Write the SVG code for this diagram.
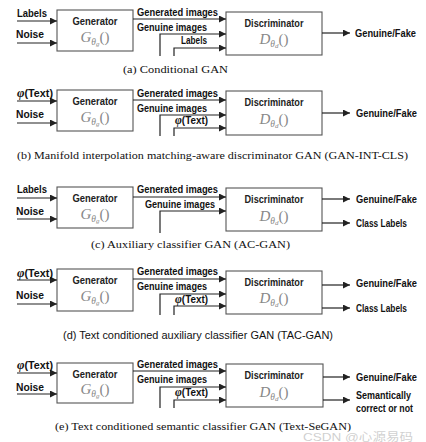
<svg xmlns="http://www.w3.org/2000/svg" width="426" height="442" viewBox="0 0 426 442">
<style>
.box{fill:#fff;stroke:#555;stroke-width:1.1}
.lbl{font-family:"Liberation Sans",Arial,sans-serif;font-weight:bold;font-size:10.5px;fill:#111}
.ttl{font-family:"Liberation Sans",Arial,sans-serif;font-weight:bold;font-size:10.5px;fill:#222;text-anchor:middle}
.math{font-family:"Liberation Serif","Times New Roman",serif;font-style:italic;font-size:15px;fill:#888;text-anchor:middle}
.cap{font-family:"Liberation Serif","Times New Roman",serif;font-size:11px;fill:#111}
.caps{font-family:"Liberation Sans",Arial,sans-serif;font-size:10.5px;fill:#111}
.ln{fill:none;stroke:#222;stroke-width:1.2}
.phi{font-family:"Liberation Serif",serif;font-style:italic;font-weight:bold;font-size:12.5px}
.s1{font-size:9.5px}
.s2{font-size:7px}
</style>
<defs>
<marker id="ah" markerWidth="7" markerHeight="7" refX="7" refY="3.5" orient="auto" markerUnits="userSpaceOnUse">
<path d="M0,0 L7,3.5 L0,7 z" fill="#222"/>
</marker>
</defs>

<!-- Panel (a) -->
<g id="panel-a" transform="translate(0,10)">
<g id="gen-a"><rect class="box" x="57" y="0" width="76" height="41"/><text class="ttl" x="95" y="15" textLength="45" lengthAdjust="spacingAndGlyphs">Generator</text><text class="math" x="95" y="32">G<tspan class="s1" dy="2.5">θ</tspan><tspan class="s2" dy="1.5">g</tspan><tspan font-style="normal" dy="-4">()</tspan></text></g>
<g id="disc-a"><rect class="box" x="226" y="2" width="96" height="43"/><text class="ttl" x="274" y="17" textLength="59" lengthAdjust="spacingAndGlyphs">Discriminator</text><text class="math" x="274" y="34">D<tspan class="s1" dy="2.5">θ</tspan><tspan class="s2" dy="1.5">d</tspan><tspan font-style="normal" dy="-4">()</tspan></text></g>
<g id="conn-a">
<line class="ln" x1="17" y1="11" x2="57" y2="11" marker-end="url(#ah)"/>
<line class="ln" x1="17" y1="33" x2="57" y2="33" marker-end="url(#ah)"/>
<line class="ln" x1="133" y1="9" x2="226" y2="9" marker-end="url(#ah)"/>
<path class="ln" d="M160,46 V24 H226" marker-end="url(#ah)"/>
<path class="ln" d="M174,46 V38 H226" marker-end="url(#ah)"/>
<line class="ln" x1="322" y1="23" x2="350" y2="23" marker-end="url(#ah)"/>
</g>
<text class="lbl" x="17" y="7" textLength="30" lengthAdjust="spacingAndGlyphs">Labels</text>
<text class="lbl" x="16" y="28" textLength="28" lengthAdjust="spacingAndGlyphs">Noise</text>
<text class="lbl" x="137" y="6" textLength="81" lengthAdjust="spacingAndGlyphs">Generated images</text>
<text class="lbl" x="137" y="21" textLength="70" lengthAdjust="spacingAndGlyphs">Genuine images</text>
<text class="lbl" x="181" y="34" textLength="26" lengthAdjust="spacingAndGlyphs">Labels</text>
<text class="lbl" x="355" y="27" textLength="61" lengthAdjust="spacingAndGlyphs">Genuine/Fake</text>
<text class="cap" x="123" y="63" textLength="105" lengthAdjust="spacingAndGlyphs">(a)  Conditional GAN</text>
</g>

<!-- Panel (b) -->
<g id="panel-b" transform="translate(0,90)">
<g id="gen-b"><rect class="box" x="57" y="0" width="76" height="41"/><text class="ttl" x="95" y="15" textLength="45" lengthAdjust="spacingAndGlyphs">Generator</text><text class="math" x="95" y="32">G<tspan class="s1" dy="2.5">θ</tspan><tspan class="s2" dy="1.5">g</tspan><tspan font-style="normal" dy="-4">()</tspan></text></g>
<g id="disc-b"><rect class="box" x="226" y="1" width="96" height="44"/><text class="ttl" x="274" y="16" textLength="59" lengthAdjust="spacingAndGlyphs">Discriminator</text><text class="math" x="274" y="34">D<tspan class="s1" dy="2.5">θ</tspan><tspan class="s2" dy="1.5">d</tspan><tspan font-style="normal" dy="-4">()</tspan></text></g>
<g id="conn-b">
<line class="ln" x1="17" y1="11" x2="57" y2="11" marker-end="url(#ah)"/>
<line class="ln" x1="17" y1="33" x2="57" y2="33" marker-end="url(#ah)"/>
<line class="ln" x1="133" y1="10" x2="226" y2="10" marker-end="url(#ah)"/>
<path class="ln" d="M160,46 V25 H226" marker-end="url(#ah)"/>
<path class="ln" d="M174,46 V38 H226" marker-end="url(#ah)"/>
<line class="ln" x1="322" y1="23" x2="350" y2="23" marker-end="url(#ah)"/>
</g>
<text class="lbl" x="17" y="7" textLength="36" lengthAdjust="spacingAndGlyphs"><tspan class="phi">φ</tspan>(Text)</text>
<text class="lbl" x="16" y="28" textLength="28" lengthAdjust="spacingAndGlyphs">Noise</text>
<text class="lbl" x="137" y="7" textLength="81" lengthAdjust="spacingAndGlyphs">Generated images</text>
<text class="lbl" x="137" y="22" textLength="70" lengthAdjust="spacingAndGlyphs">Genuine images</text>
<text class="lbl" x="175" y="34" textLength="33" lengthAdjust="spacingAndGlyphs"><tspan class="phi">φ</tspan>(Text)</text>
<text class="lbl" x="356" y="27" textLength="61" lengthAdjust="spacingAndGlyphs">Genuine/Fake</text>
<text class="cap" x="17" y="69" textLength="391" lengthAdjust="spacingAndGlyphs">(b)  Manifold interpolation matching-aware discriminator GAN (GAN-INT-CLS)</text>
</g>

<!-- Panel (c) -->
<g id="panel-c" transform="translate(0,187)">
<g id="gen-c"><rect class="box" x="57" y="0" width="76" height="41"/><text class="ttl" x="95" y="15" textLength="45" lengthAdjust="spacingAndGlyphs">Generator</text><text class="math" x="95" y="32">G<tspan class="s1" dy="2.5">θ</tspan><tspan class="s2" dy="1.5">g</tspan><tspan font-style="normal" dy="-4">()</tspan></text></g>
<g id="disc-c"><rect class="box" x="226" y="1" width="96" height="43"/><text class="ttl" x="274" y="16" textLength="59" lengthAdjust="spacingAndGlyphs">Discriminator</text><text class="math" x="274" y="34">D<tspan class="s1" dy="2.5">θ</tspan><tspan class="s2" dy="1.5">d</tspan><tspan font-style="normal" dy="-4">()</tspan></text></g>
<g id="conn-c">
<line class="ln" x1="17" y1="11" x2="57" y2="11" marker-end="url(#ah)"/>
<line class="ln" x1="17" y1="32" x2="57" y2="32" marker-end="url(#ah)"/>
<line class="ln" x1="133" y1="10" x2="226" y2="10" marker-end="url(#ah)"/>
<path class="ln" d="M160,46 V24 H226" marker-end="url(#ah)"/>
<line class="ln" x1="322" y1="12" x2="350" y2="12" marker-end="url(#ah)"/>
<line class="ln" x1="322" y1="36" x2="350" y2="36" marker-end="url(#ah)"/>
</g>
<text class="lbl" x="17" y="6" textLength="30" lengthAdjust="spacingAndGlyphs">Labels</text>
<text class="lbl" x="16" y="28" textLength="28" lengthAdjust="spacingAndGlyphs">Noise</text>
<text class="lbl" x="137" y="6" textLength="81" lengthAdjust="spacingAndGlyphs">Generated images</text>
<text class="lbl" x="145" y="21" textLength="70" lengthAdjust="spacingAndGlyphs">Genuine images</text>
<text class="lbl" x="356" y="16" textLength="61" lengthAdjust="spacingAndGlyphs">Genuine/Fake</text>
<text class="lbl" x="356" y="40" textLength="51" lengthAdjust="spacingAndGlyphs">Class Labels</text>
<text class="cap" x="91" y="61" textLength="199" lengthAdjust="spacingAndGlyphs">(c)  Auxiliary classifier GAN (AC-GAN)</text>
</g>

<!-- Panel (d) -->
<g id="panel-d" transform="translate(0,269)">
<g id="gen-d"><rect class="box" x="57" y="0" width="76" height="42"/><text class="ttl" x="95" y="15" textLength="45" lengthAdjust="spacingAndGlyphs">Generator</text><text class="math" x="95" y="32">G<tspan class="s1" dy="2.5">θ</tspan><tspan class="s2" dy="1.5">g</tspan><tspan font-style="normal" dy="-4">()</tspan></text></g>
<g id="disc-d"><rect class="box" x="226" y="2" width="96" height="43"/><text class="ttl" x="274" y="17" textLength="59" lengthAdjust="spacingAndGlyphs">Discriminator</text><text class="math" x="274" y="34">D<tspan class="s1" dy="2.5">θ</tspan><tspan class="s2" dy="1.5">d</tspan><tspan font-style="normal" dy="-4">()</tspan></text></g>
<g id="conn-d">
<line class="ln" x1="17" y1="11" x2="57" y2="11" marker-end="url(#ah)"/>
<line class="ln" x1="17" y1="35" x2="57" y2="35" marker-end="url(#ah)"/>
<line class="ln" x1="133" y1="10" x2="226" y2="10" marker-end="url(#ah)"/>
<path class="ln" d="M160,46 V25 H226" marker-end="url(#ah)"/>
<path class="ln" d="M174,46 V37 H226" marker-end="url(#ah)"/>
<line class="ln" x1="322" y1="16" x2="350" y2="16" marker-end="url(#ah)"/>
<line class="ln" x1="322" y1="39" x2="350" y2="39" marker-end="url(#ah)"/>
</g>
<text class="lbl" x="17" y="8" textLength="36" lengthAdjust="spacingAndGlyphs"><tspan class="phi">φ</tspan>(Text)</text>
<text class="lbl" x="16" y="30" textLength="28" lengthAdjust="spacingAndGlyphs">Noise</text>
<text class="lbl" x="137" y="6" textLength="81" lengthAdjust="spacingAndGlyphs">Generated images</text>
<text class="lbl" x="137" y="21" textLength="70" lengthAdjust="spacingAndGlyphs">Genuine images</text>
<text class="lbl" x="175" y="34" textLength="33" lengthAdjust="spacingAndGlyphs"><tspan class="phi">φ</tspan>(Text)</text>
<text class="lbl" x="356" y="18" textLength="61" lengthAdjust="spacingAndGlyphs">Genuine/Fake</text>
<text class="lbl" x="356" y="43" textLength="51" lengthAdjust="spacingAndGlyphs">Class Labels</text>
<text class="caps" x="63" y="70" textLength="270" lengthAdjust="spacingAndGlyphs">(d)  Text conditioned auxiliary classifier GAN (TAC-GAN)</text>
</g>

<!-- Panel (e) -->
<g id="panel-e" transform="translate(0,363)">
<g id="gen-e"><rect class="box" x="57" y="0" width="76" height="40"/><text class="ttl" x="95" y="15" textLength="45" lengthAdjust="spacingAndGlyphs">Generator</text><text class="math" x="95" y="31">G<tspan class="s1" dy="2.5">θ</tspan><tspan class="s2" dy="1.5">g</tspan><tspan font-style="normal" dy="-4">()</tspan></text></g>
<g id="disc-e"><rect class="box" x="226" y="1" width="97" height="43"/><text class="ttl" x="274" y="16" textLength="59" lengthAdjust="spacingAndGlyphs">Discriminator</text><text class="math" x="274" y="34">D<tspan class="s1" dy="2.5">θ</tspan><tspan class="s2" dy="1.5">d</tspan><tspan font-style="normal" dy="-4">()</tspan></text></g>
<g id="conn-e">
<line class="ln" x1="17" y1="10" x2="57" y2="10" marker-end="url(#ah)"/>
<line class="ln" x1="17" y1="31" x2="57" y2="31" marker-end="url(#ah)"/>
<line class="ln" x1="133" y1="8" x2="226" y2="8" marker-end="url(#ah)"/>
<path class="ln" d="M160,45 V24 H226" marker-end="url(#ah)"/>
<path class="ln" d="M174,45 V37 H226" marker-end="url(#ah)"/>
<line class="ln" x1="323" y1="14" x2="350" y2="14" marker-end="url(#ah)"/>
<line class="ln" x1="323" y1="37" x2="350" y2="37" marker-end="url(#ah)"/>
</g>
<text class="lbl" x="17" y="6" textLength="36" lengthAdjust="spacingAndGlyphs"><tspan class="phi">φ</tspan>(Text)</text>
<text class="lbl" x="16" y="28" textLength="28" lengthAdjust="spacingAndGlyphs">Noise</text>
<text class="lbl" x="137" y="5" textLength="81" lengthAdjust="spacingAndGlyphs">Generated images</text>
<text class="lbl" x="137" y="20" textLength="70" lengthAdjust="spacingAndGlyphs">Genuine images</text>
<text class="lbl" x="175" y="33" textLength="33" lengthAdjust="spacingAndGlyphs"><tspan class="phi">φ</tspan>(Text)</text>
<text class="lbl" x="356" y="18" textLength="61" lengthAdjust="spacingAndGlyphs">Genuine/Fake</text>
<text class="lbl" x="356" y="36" textLength="55" lengthAdjust="spacingAndGlyphs">Semantically</text>
<text class="lbl" x="356" y="49" textLength="57" lengthAdjust="spacingAndGlyphs">correct or not</text>
<text class="cap" x="55" y="67" textLength="296" lengthAdjust="spacingAndGlyphs">(e)  Text conditioned semantic classifier GAN (Text-SeGAN)</text>
</g>
<text x="303" y="441" font-family="'Liberation Sans','Noto Sans CJK SC',sans-serif" font-size="11" fill="#bbb" fill-opacity="0.7" textLength="110" lengthAdjust="spacingAndGlyphs">CSDN @心源易码</text>
</svg>
